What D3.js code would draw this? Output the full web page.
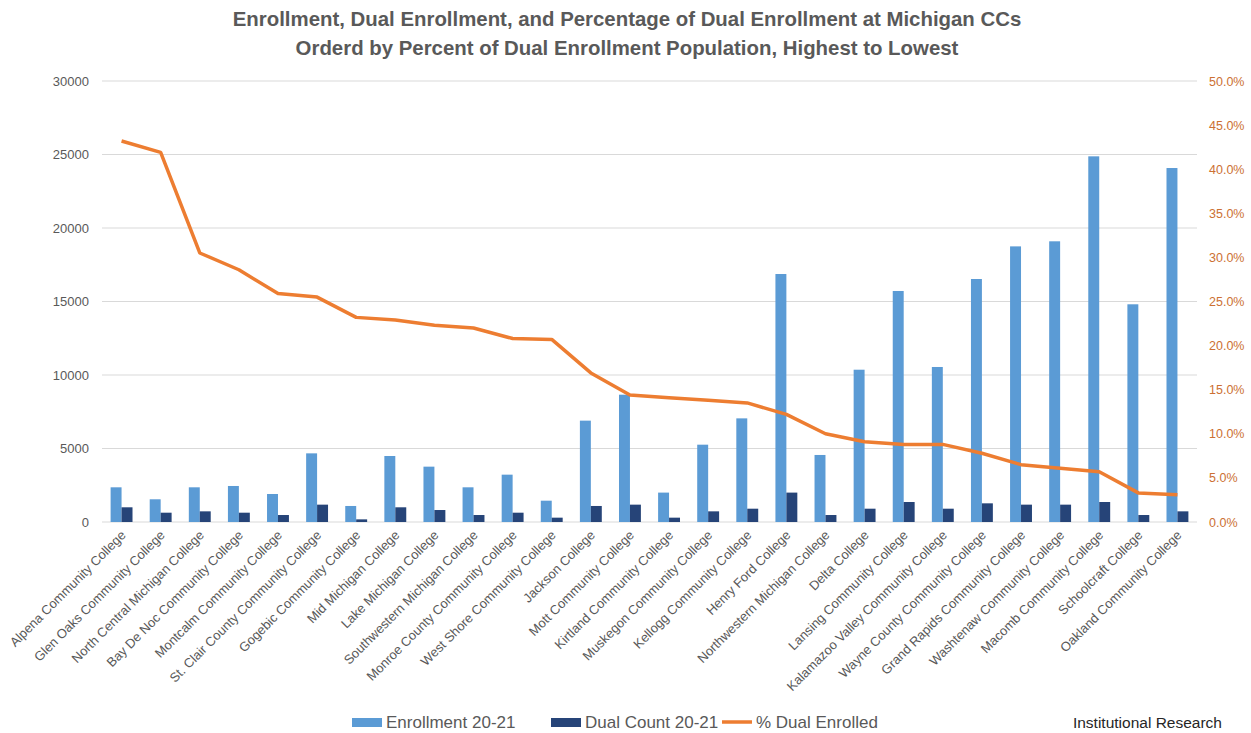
<!DOCTYPE html>
<html><head><meta charset="utf-8">
<script src="https://cdn.jsdelivr.net/npm/d3@7/dist/d3.min.js"></script>
<style>body{margin:0;background:#fff}svg{display:block}</style>
</head><body><svg id="c" width="1251" height="733"></svg>
<script>
const colleges = ["Alpena Community College","Glen Oaks Community College","North Central Michigan College","Bay De Noc Community College","Montcalm Community College","St. Clair County Community College","Gogebic Community College","Mid Michigan College","Lake Michigan College","Southwestern Michigan College","Monroe County Community College","West Shore Community College","Jackson College","Mott Community College","Kirtland Community College","Muskegon Community College","Kellogg Community College","Henry Ford College","Northwestern Michigan College","Delta College","Lansing Community College","Kalamazoo Valley Community College","Wayne County Community College","Grand Rapids Community College","Washtenaw Community College","Macomb Community College","Schoolcraft College","Oakland Community College"];
const enrollment = [2360,1545,2360,2450,1905,4670,1090,4490,3765,2360,3220,1450,6895,8660,2000,5260,7050,16870,4560,10360,15715,10545,16530,18750,19095,24875,14810,24080];
const dualCount = [1000,633,725,633,475,1180,180,1000,815,475,633,295,1090,1180,295,725,905,2000,475,905,1360,905,1270,1180,1180,1360,475,725];
const pctDual = [43.2,41.9,30.5,28.6,25.9,25.5,23.2,22.9,22.3,22.0,20.8,20.7,16.9,14.4,14.1,13.8,13.5,12.2,10.0,9.1,8.8,8.8,7.8,6.5,6.1,5.7,3.3,3.1];
const leftTicks = [0,5000,10000,15000,20000,25000,30000];
const rightTicks = [0,5,10,15,20,25,30,35,40,45,50];
const titleLines = ["Enrollment, Dual Enrollment, and Percentage of Dual Enrollment at Michigan CCs","Orderd by Percent of Dual Enrollment Population, Highest to Lowest"];
const seriesNames = ["Enrollment 20-21","Dual Count 20-21","% Dual Enrolled"];
const colors = {enr:"#5B9BD5", dual:"#264478", pct:"#ED7D31"};

const svg = d3.select("#c");
const font = "'Liberation Sans', Arial, sans-serif";
const L = 102, R = 1197, T = 81, B = 522;

const x = d3.scaleBand().domain(colleges).range([L, R]).paddingInner(0.44).paddingOuter(0.22);
const xs = d3.scaleBand().domain(["enr","dual"]).range([0, x.bandwidth()]);
const y = d3.scaleLinear().domain([0,30000]).range([B, T]);
const y2 = d3.scaleLinear().domain([0,50]).range([B, T]);

// gridlines
svg.append("g").selectAll("line").data(leftTicks).join("line")
  .attr("x1", L).attr("x2", R).attr("y1", d=>y(d)).attr("y2", d=>y(d))
  .attr("stroke", "#d9d9d9").attr("stroke-width", 1);

// left axis
const ga = svg.append("g").attr("transform",`translate(${L},0)`)
  .call(d3.axisLeft(y).tickValues(leftTicks).tickFormat(d3.format("d")).tickSize(0).tickPadding(13));
ga.select(".domain").remove();
ga.selectAll("text").attr("fill","#595959").style("font-family",font).style("font-size","13px");

// right axis
const gr = svg.append("g").attr("transform",`translate(${R},0)`)
  .call(d3.axisRight(y2).tickValues(rightTicks).tickFormat(d=>d.toFixed(1)+"%").tickSize(0).tickPadding(12));
gr.select(".domain").remove();
gr.selectAll("text").attr("fill","#CC7033").style("font-family",font).style("font-size","12.5px");

// bars
const groups = svg.append("g").selectAll("g").data(colleges).join("g")
  .attr("transform", d=>`translate(${x(d)},0)`);
groups.append("rect").attr("x", xs("enr")).attr("width", xs.bandwidth())
  .attr("y", (d,i)=>y(enrollment[i])).attr("height",(d,i)=>B-y(enrollment[i])).attr("fill", colors.enr);
groups.append("rect").attr("x", xs("dual")).attr("width", xs.bandwidth())
  .attr("y", (d,i)=>y(dualCount[i])).attr("height",(d,i)=>B-y(dualCount[i])).attr("fill", colors.dual);

// line
const line = d3.line().x((d,i)=>x(colleges[i])+x.bandwidth()/2).y(d=>y2(d));
svg.append("path").datum(pctDual).attr("d", line).attr("fill","none")
  .attr("stroke", colors.pct).attr("stroke-width", 3.5).attr("stroke-linejoin","round");

// x labels
const gx = svg.append("g").attr("transform",`translate(0,${B})`)
  .call(d3.axisBottom(x).tickSize(0).tickPadding(0));
gx.select(".domain").remove();
gx.selectAll("text").attr("fill","#595959").style("font-family",font).style("font-size","13px")
  .attr("text-anchor","end").attr("dy",null).attr("y",0)
  .attr("transform","translate(5,14) rotate(-45)");

// title
svg.append("g").selectAll("text").data(titleLines).join("text")
  .attr("x", 627).attr("y",(d,i)=>26+i*29).attr("text-anchor","middle")
  .attr("fill","#595959").style("font-family",font).style("font-weight","bold").style("font-size","20.4px")
  .text(d=>d);

// legend
const lg = svg.append("g").style("font-family",font).style("font-size","17px").attr("fill","#595959");
const items = [{k:"enr",x:352},{k:"dual",x:551},{k:"pct",x:722}];
items.forEach((it,i)=>{
  if(it.k==="pct") lg.append("line").attr("x1",it.x).attr("x2",it.x+30).attr("y1",722).attr("y2",722).attr("stroke",colors.pct).attr("stroke-width",3.5);
  else lg.append("rect").attr("x",it.x).attr("y",718).attr("width",30).attr("height",9).attr("fill",colors[it.k]);
  lg.append("text").attr("x",it.x+34).attr("y",728).text(seriesNames[i]);
});
svg.append("text").attr("x",1222).attr("y",728).attr("text-anchor","end").attr("fill","#262626")
  .style("font-family",font).style("font-size","15.5px").text("Institutional Research");
</script></body></html>
